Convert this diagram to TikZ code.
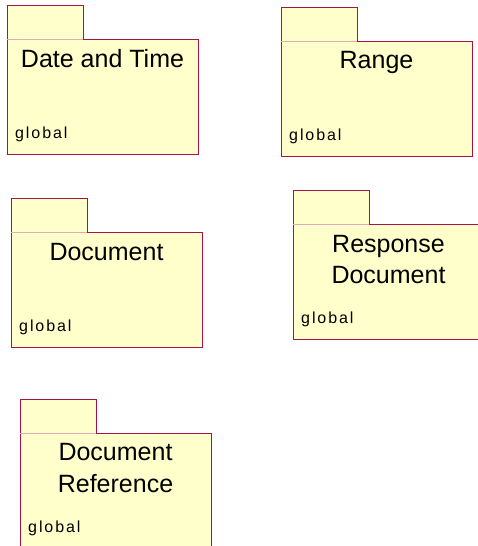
\documentclass[tikz,border=0pt]{standalone}
\usepackage{fontspec}
\setmainfont{Liberation Sans}
\newfontfamily\globalfont[LetterSpace=12]{Liberation Sans}
\definecolor{pkgfill}{RGB}{255,255,204}
\definecolor{pkgedge}{RGB}{165,20,70}
\definecolor{pkgsep}{RGB}{225,170,185}
\tikzset{
  pkgbody/.style={rectangle, draw=pkgedge, fill=pkgfill, line width=1pt,
    minimum width=191pt, minimum height=115pt, inner sep=0pt, outer sep=0pt, anchor=north west},
  pkgtab/.style={rectangle, fill=pkgfill, minimum width=76pt, minimum height=34pt,
    inner sep=0pt, outer sep=0pt, anchor=south west},
  tabedge/.style={draw=pkgedge, line width=1pt},
  sepline/.style={draw=pkgsep, line width=1pt},
  titletext/.style={font=\fontsize{25}{30}\selectfont, anchor=base, inner sep=0pt},
  scopetext/.style={font=\globalfont\fontsize{16}{18}\selectfont, anchor=base west, inner sep=0pt}
}
\newcommand{\umlpkg}[3]{%
  \node[pkgbody] (#3) at (#1,#2) {};
  \node[pkgtab] (#3tab) at (#3.north west) {};
  \draw[sepline] (#3tab.south west) -- (#3tab.south east);
  \draw[tabedge] (#3tab.south west) |- (#3tab.north east) -- (#3tab.south east);
  \node[scopetext] (#3g) at ([xshift=8pt,yshift=16pt]#3.south west) {global};
}
\begin{document}
\begin{tikzpicture}[x=1pt,y=-1pt]
\useasboundingbox (0,0) rectangle (478,546);
\clip (0,0) rectangle (478,546);
\fill[white] (0,0) rectangle (478,546);
% Date and Time
\umlpkg{7}{39}{dt}
\node[titletext] (dtT) at ([yshift=-28pt]dt.north) {Date and Time};
% Range
\umlpkg{281}{41}{rg}
\node[titletext] (rgT) at ([yshift=-27pt]rg.north) {Range};
% Document
\umlpkg{11}{232}{doc}
\node[titletext] (docT) at ([yshift=-28pt]doc.north) {Document};
% Response Document
\umlpkg{293}{224}{rd}
\node[titletext] (rdT1) at ([yshift=-28pt]rd.north) {Response};
\node[titletext] (rdT2) at ([yshift=-59pt]rd.north) {Document};
% Document Reference
\umlpkg{20}{433}{dr}
\node[titletext] (drT1) at ([yshift=-27pt]dr.north) {Document};
\node[titletext] (drT2) at ([yshift=-59pt]dr.north) {Reference};
\end{tikzpicture}
\end{document}
